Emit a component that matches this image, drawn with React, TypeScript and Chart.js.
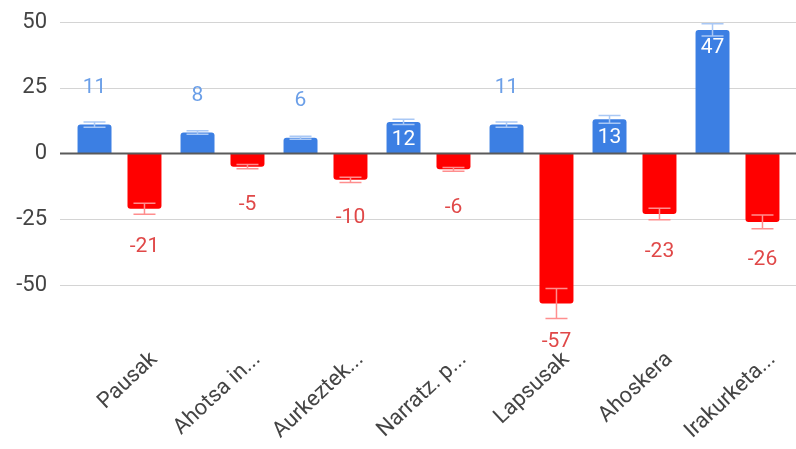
import { useEffect, useRef } from 'react';
import { Chart, registerables } from 'chart.js';

Chart.register(...registerables);

const categories = ['Pausak', 'Ahotsa in...', 'Aurkeztek...', 'Narratz. p...', 'Lapsusak', 'Ahoskera', 'Irakurketa...'];
const blueValues = [11, 8, 6, 12, 11, 13, 47];
const redValues = [-21, -5, -10, -6, -57, -23, -26];
const blueErrors = [1, 0.7, 0.6, 1, 1, 1.5, 2.3];
const redErrors = [2.1, 0.8, 1, 0.7, 5.7, 2.2, 2.6];
const yTicks = [-50, -25, 0, 25, 50];

const BLUE = '#3c7fe3';
const RED = '#ff0000';
const FONT = 'Roboto';

const gridPlugin = {
  id: 'extGrid',
  beforeDatasetsDraw(chart: any) {
    const { ctx, chartArea, scales } = chart;
    const y = scales.y;
    ctx.save();
    for (const v of yTicks) {
      if (v === 0) continue;
      const py = Math.round(y.getPixelForValue(v)) + 0.5;
      ctx.beginPath();
      ctx.strokeStyle = '#d4d4d4';
      ctx.lineWidth = 1;
      ctx.moveTo(chartArea.left - 8, py);
      ctx.lineTo(chart.width, py);
      ctx.stroke();
    }
    ctx.restore();
  },
  afterDatasetsDraw(chart: any) {
    const { ctx, chartArea, scales } = chart;
    const y = scales.y;
    ctx.save();
    const py = y.getPixelForValue(0);
    ctx.beginPath();
    ctx.strokeStyle = '#5a5a5a';
    ctx.lineWidth = 2;
    ctx.moveTo(chartArea.left - 8, py);
    ctx.lineTo(chart.width, py);
    ctx.stroke();

    // error bars
    const sets = [
      { vals: blueValues, errs: blueErrors, color: '#a9c8f5' },
      { vals: redValues, errs: redErrors, color: '#ff8e8e' },
    ];
    sets.forEach((s, di) => {
      const meta = chart.getDatasetMeta(di);
      meta.data.forEach((bar: any, i: number) => {
        const v = s.vals[i];
        const e = s.errs[i];
        const hi = y.getPixelForValue(v + e);
        const lo = y.getPixelForValue(v - e);
        const x = bar.x;
        const half = 11;
        ctx.strokeStyle = s.color;
        ctx.lineWidth = 1.5;
        ctx.beginPath();
        ctx.moveTo(x, hi);
        ctx.lineTo(x, lo);
        ctx.moveTo(x - half, hi);
        ctx.lineTo(x + half, hi);
        ctx.moveTo(x - half, lo);
        ctx.lineTo(x + half, lo);
        ctx.stroke();
      });
    });

    // data labels
    ctx.font = `21px ${FONT}`;
    ctx.textAlign = 'center';
    ctx.textBaseline = 'middle';
    chart.getDatasetMeta(0).data.forEach((bar: any, i: number) => {
      const v = blueValues[i];
      if (v >= 12) {
        ctx.fillStyle = '#ffffff';
        ctx.fillText(String(v), bar.x, bar.y + 18);
      } else {
        ctx.fillStyle = '#6b9fe8';
        ctx.fillText(String(v), bar.x, bar.y - 37);
      }
    });
    chart.getDatasetMeta(1).data.forEach((bar: any, i: number) => {
      const v = redValues[i];
      ctx.fillStyle = '#e04848';
      ctx.fillText(String(v), bar.x, bar.y + 38);
    });
    ctx.restore();
  },
};

export default function App() {
  const ref = useRef<HTMLCanvasElement | null>(null);

  useEffect(() => {
    if (!ref.current) return;
    const chart = new Chart(ref.current, {
      type: 'bar',
      data: {
        labels: categories,
        datasets: [
          {
            label: 'Positive',
            data: blueValues,
            backgroundColor: BLUE,
            borderRadius: 3,
            categoryPercentage: 0.97,
            barPercentage: 0.68,
          },
          {
            label: 'Negative',
            data: redValues,
            backgroundColor: RED,
            borderRadius: 3,
            categoryPercentage: 0.97,
            barPercentage: 0.68,
          },
        ],
      },
      options: {
        animation: false,
        responsive: true,
        maintainAspectRatio: false,
        layout: { padding: { top: 22, right: 7, bottom: 0, left: 0 } },
        plugins: {
          legend: { display: false },
          tooltip: { enabled: false },
        },
        scales: {
          x: {
            grid: { display: false, drawTicks: false },
            border: { display: false },
            ticks: {
              autoSkip: false,
              maxRotation: 43,
              minRotation: 43,
              labelOffset: 35,
              padding: 30,
              color: '#444444',
              font: { family: FONT, size: 22 },
            },
            afterFit(s: any) {
              s.height = 132.4;
            },
          },
          y: {
            min: -62,
            max: 50,
            afterBuildTicks(s: any) {
              s.ticks = yTicks.map((v) => ({ value: v }));
            },
            grid: { display: false, drawTicks: false },
            border: { display: false },
            ticks: {
              padding: 21,
              color: '#444444',
              font: { family: FONT, size: 22 },
            },
            afterFit(s: any) {
              s.width = 68;
              s.paddingTop = 0;
              s.paddingBottom = 0;
            },
          },
        },
      },
      plugins: [gridPlugin],
    });
    return () => chart.destroy();
  }, []);

  return (
    <div style={{ position: 'absolute', left: 0, top: 0, width: 796, height: 449, background: '#fff' }}>
      <canvas ref={ref} />
    </div>
  );
}
